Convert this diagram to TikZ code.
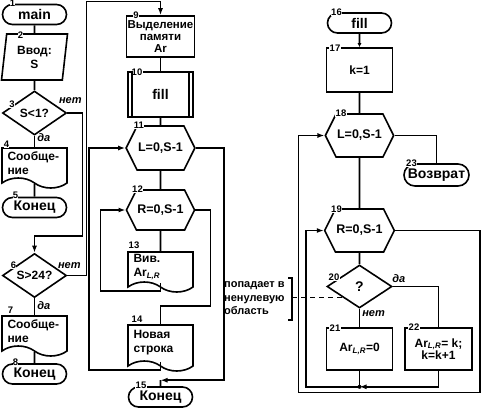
\documentclass[tikz,border=0pt]{standalone}
\usepackage{fontspec}
\setmainfont{Liberation Sans}
\usetikzlibrary{shapes.geometric,shapes.misc,shapes.symbols,arrows.meta,calc}

\tikzset{
  block/.style={draw, line width=1.6pt, inner sep=1pt,
    font=\bfseries\fontsize{12}{14}\selectfont},
  term/.style={block, rounded rectangle, minimum width=66pt, minimum height=20pt,
    font=\bfseries\fontsize{14}{16}\selectfont},
  proc/.style={block, rectangle, minimum width=65pt, minimum height=42pt, align=center},
  io/.style={block, trapezium, trapezium left angle=78, trapezium right angle=102,
    trapezium stretches body, minimum width=66pt, minimum height=46pt, align=center},
  cond/.style={block, diamond, aspect=1.45, inner sep=0pt,
    minimum width=64pt, minimum height=44pt},
  limit/.style={block, signal, signal to=west and east, signal pointer angle=127,
    minimum width=65pt, minimum height=44pt, font=\bfseries\fontsize{12.5}{14}\selectfont},
  docu/.style={block, tape, tape bend top=none, tape bend bottom=out and in,
    tape bend height=10pt, minimum width=65pt, minimum height=40pt,
    text width=54pt, align=left},
  num/.style={anchor=center, fill=white, inner sep=0.3pt,
    font=\bfseries\fontsize{9.5}{9.5}\selectfont},
  answer/.style={inner sep=1pt, font=\bfseries\itshape\fontsize{11}{11}\selectfont},
  line/.style={line width=1.6pt},
  arr/.style={line, -{Latex[length=7pt,width=5pt]}}
}

\begin{document}
\begin{tikzpicture}[x=1pt,y=-1pt]
\useasboundingbox (0,0) rectangle (481,413);

% main program, checks of S
\node[term, label={[num,xshift=-22pt,yshift=11pt]center:1}] (main) at (34.5,14.5) {main};
\node[io, label={[num,xshift=-14pt,yshift=22pt]center:2}] (input) at (34.5,57) {Ввод:\\S};
\node[cond, label={[num,xshift=-22.5pt,yshift=8.5pt]center:3}] (lt1) at (34.5,113) {S<1?};
\node[docu, label={[num,xshift=-28pt,yshift=19pt]center:4}] (msg1) at (34.5,163) {Сообще-\\ние};
\node[term, label={[num,xshift=-19pt,yshift=12pt]center:5}] (end1) at (34.5,207.5) {Конец};
\node[cond, label={[num,xshift=-21pt,yshift=10pt]center:6}] (gt24) at (34.5,275.5) {S>24?};
\node[docu, label={[num,xshift=-24pt,yshift=21pt]center:7}] (msg2) at (34.5,331) {Сообще-\\ние};
\node[term, label={[num,xshift=-19pt,yshift=12pt]center:8}] (end2) at (34.5,374) {Конец};

% allocation and output
\node[proc, minimum height=41pt, font=\bfseries\fontsize{11.5}{12}\selectfont,
  label={[num,xshift=-24.5pt,yshift=21pt]center:9}] (alloc) at (160.5,36.5) {Выделение\\памяти\\Ar};
\node[proc, minimum height=45pt, font=\bfseries\fontsize{14}{16}\selectfont,
  label={[num,xshift=-23.5pt,yshift=22.5pt]center:10}] (fillcall) at (160.5,94.5) {fill};
\node[limit, label={[num,xshift=-21.5pt,yshift=23pt]center:11}] (lloop) at (160.5,148) {L=0,S-1};
\node[limit, minimum height=40pt, label={[num,xshift=-23pt,yshift=20.5pt]center:12}] (rloop) at (160.5,210) {R=0,S-1};
\node[docu, label={[num,xshift=-26.5pt,yshift=21.5pt]center:13}] (outrow) at (160.5,267) {Вив.\\Ar\textsubscript{\textit{L,R}}};
\node[docu, minimum height=46pt, label={[num,xshift=-23.5pt,yshift=23.5pt]center:14}] (newline) at (160.5,343) {Новая\\строка};
\node[term, label={[num,xshift=-19.5pt,yshift=12pt]center:15}] (end3) at (160.5,397) {Конец};

% procedure fill
\node[term, label={[num,xshift=-23pt,yshift=11pt]center:16}] (fill) at (359.5,23) {fill};
\node[proc, minimum width=66pt, minimum height=44pt,
  label={[num,xshift=-24.5pt,yshift=21.5pt]center:17}] (kinit) at (359.5,70) {k=1};
\node[limit, minimum width=66pt, minimum height=43pt,
  label={[num,xshift=-18.5pt,yshift=22.5pt]center:18}] (lloop2) at (359.5,135.5) {L=0,S-1};
\node[term, minimum width=67pt, minimum height=22pt,
  label={[num,xshift=-25pt,yshift=12pt]center:23}] (ret) at (436.5,175) {Возврат};
\node[limit, minimum width=66pt, minimum height=43pt,
  label={[num,xshift=-23pt,yshift=21pt]center:19}] (rloop2) at (359.5,230.5) {R=0,S-1};
\node[cond, minimum width=65pt, minimum height=43pt, font=\bfseries\fontsize{14}{16}\selectfont,
  label={[num,xshift=-25.5pt,yshift=9pt]center:20}] (test) at (359.5,286.5) {?};
\node[proc, minimum width=66pt, label={[num,xshift=-24.5pt,yshift=20.5pt]center:21}] (zero) at (359.5,349) {Ar\textsubscript{\textit{L,R}}=0};
\node[proc, minimum width=67pt, font=\bfseries\fontsize{12}{12.5}\selectfont,
  label={[num,xshift=-24.5pt,yshift=21.5pt]center:22}] (fillk) at (438.5,349) {Ar\textsubscript{\textit{L,R}}= k;\\k=k+1};

% note
\node[anchor=west, align=left, inner sep=0pt, font=\bfseries\fontsize{11}{13.5}\selectfont] (note) at (224,298.5) {попадает в\\ненулевую\\область};
\coordinate (brk) at (292,298);
\coordinate (end3in) at ($(end3.north)+(0,-6)$);
\coordinate (join) at ($(zero.south)+(0,16)$);

% connectors, column 1
\draw[line] (main) -- (input);
\draw[line] (input) -- (lt1);
\draw[line] (lt1.south) node[answer, anchor=west, xshift=1pt, yshift=-1.5pt] (yes3) {да} -- (msg1.north);
\draw[line] (msg1) -- (end1);
\draw[arr] (lt1.east) node[answer, anchor=south, xshift=3pt, yshift=8pt] (no3) {нет} -| ++(15,123) -| (gt24.north);
\draw[line] (gt24.south) node[answer, anchor=west, xshift=1pt, yshift=-7pt] (yes6) {да} -- (msg2.north);
\draw[line] (msg2) -- (end2);
\draw[arr] (gt24.east) node[answer, anchor=south, xshift=2pt, yshift=5pt] (no6) {нет} -| ++(19,-274) -| (alloc.north);

% connectors, column 2
\draw[line] (alloc) -- (fillcall);
\draw[line] ([xshift=5pt]fillcall.north west) -- ([xshift=5pt]fillcall.south west);
\draw[line] ([xshift=-5pt]fillcall.north east) -- ([xshift=-5pt]fillcall.south east);
\draw[line] (fillcall) -- (lloop);
\draw[line] (lloop) -- (rloop);
\draw[line] (rloop) -- (outrow);
\draw[arr] (outrow.south) -- ++(0,8) -| ($(rloop.west)+(-25,0)$) -- (rloop.west);
\draw[line] (rloop.east) -| ++(15,96) -| (newline.north);
\draw[arr] (newline.south) -- ++(0,8) -| ($(lloop.west)+(-36,0)$) -- (lloop.west);
\draw[arr] (lloop.east) -- ++(28,0) |- (end3in);
\draw[line] (end3in) -- (end3);

% connectors, column 3
\draw[line, -{Latex[length=4pt,width=4pt]}] (fill) -- (kinit);
\draw[line] (kinit) -- (lloop2);
\draw[line] (lloop2.east) -| (ret.north);
\draw[line] (lloop2) -- (rloop2);
\draw[line] (rloop2) -- (test);
\draw[line] (test.south) node[answer, anchor=west, xshift=1pt, yshift=-4.5pt] (no20) {нет} -- (zero.north);
\draw[line] (test.east) node[answer, anchor=south, xshift=6pt, yshift=2pt] (yes20) {да} -| (fillk.north);
\draw[arr] (fillk.south) |- (join);
\draw[arr] (zero.south) -- (join) -| ($(rloop2.west)+(-18,0)$) -- (rloop2.west);
\fill (join) circle (2pt);
\draw[arr] (rloop2.east) -| ++(85,162) -| ($(lloop2.west)+(-26,0)$) -- (lloop2.west);

% bracket
\draw[line] ($(brk)+(-4,-20)$) -- ($(brk)+(0,-20)$) -- ($(brk)+(0,22)$) -- ($(brk)+(-4,22)$);
\draw[line width=0.8pt, dash pattern=on 5pt off 4pt] (brk |- test.south west) -- (test.south west);
\end{tikzpicture}
\end{document}
